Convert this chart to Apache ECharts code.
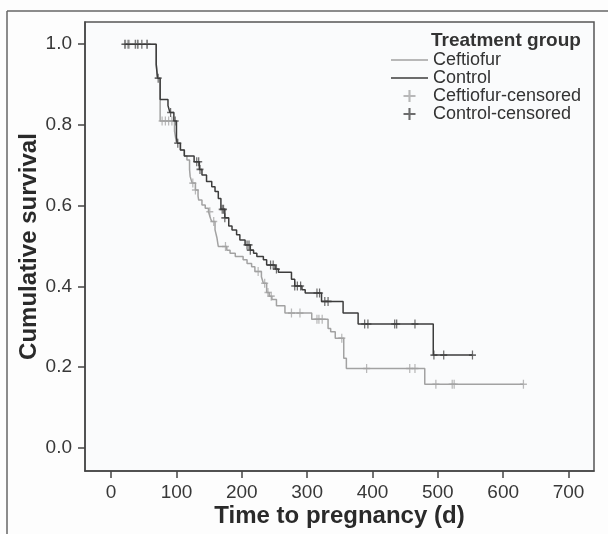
<!DOCTYPE html>
<html>
<head>
<meta charset="utf-8">
<script src="https://cdn.jsdelivr.net/npm/echarts@6/dist/echarts.min.js"></script>
<style>
html, body { margin: 0; padding: 0; background: #fdfdfd; }
#chart { width: 608px; height: 534px; }
</style>
</head>
<body>
<div id="chart"></div>
<script>
// Kaplan-Meier steps: event time (d) and survival after that time
var ceftTime = [20, 69, 71, 75, 97, 100, 106, 112, 116, 120, 121, 124, 129, 133, 134, 139, 144, 149, 152, 154, 159, 162, 164, 177, 182, 190, 202, 208, 215, 220, 230, 233, 238, 242, 246, 253, 266, 307, 332, 336, 343, 356, 360, 480, 631];
var ceftSurv = [1.0, 0.95, 0.916, 0.81, 0.785, 0.755, 0.738, 0.723, 0.713, 0.69, 0.672, 0.656, 0.639, 0.624, 0.614, 0.602, 0.594, 0.585, 0.569, 0.561, 0.54, 0.52, 0.499, 0.49, 0.482, 0.474, 0.466, 0.457, 0.449, 0.437, 0.424, 0.408, 0.385, 0.376, 0.368, 0.352, 0.334, 0.319, 0.296, 0.288, 0.272, 0.222, 0.197, 0.158, 0.158];
var ctrlTime = [20, 69, 71, 75, 87, 90, 96, 100, 101, 106, 112, 127, 135, 139, 146, 154, 159, 164, 168, 174, 180, 185, 192, 197, 205, 213, 218, 223, 233, 238, 251, 256, 276, 281, 292, 297, 322, 355, 378, 493, 553];
var ctrlSurv = [1.0, 0.95, 0.916, 0.863, 0.848, 0.831, 0.81, 0.77, 0.755, 0.738, 0.723, 0.709, 0.69, 0.676, 0.66, 0.647, 0.635, 0.618, 0.591, 0.57, 0.55, 0.54, 0.528, 0.515, 0.503, 0.49, 0.482, 0.474, 0.466, 0.453, 0.443, 0.435, 0.418, 0.401, 0.392, 0.384, 0.363, 0.334, 0.307, 0.23, 0.23];
// censored observations (d)
var ceftCens = [22, 28, 40, 55, 78, 83, 88, 93, 125, 129, 151, 157, 175, 225, 235, 240, 245, 276, 289, 315, 318, 323, 353, 391, 457, 465, 497, 522, 525, 631];
var ctrlCens = [21, 26, 37, 41, 47, 55, 72, 91, 98, 102, 131, 134, 136, 170, 172, 174, 208, 211, 213, 244, 248, 253, 281, 285, 290, 315, 319, 327, 332, 388, 393, 434, 437, 465, 494, 509, 553];
var xTicks = [0, 100, 200, 300, 400, 500, 600, 700];
var yTicks = [0, 0.2, 0.4, 0.6, 0.8, 1.0];

var FONT = "'Liberation Sans', Arial, sans-serif";
var plusPath = 'path://M3.5,0h1.5v3.5h3.5v1.5h-3.5v3.5h-1.5v-3.5h-3.5v-1.5h3.5z';
var linePath = 'path://M0,0H37V1.6H0Z';

function pairs(t, s) {
    var out = [];
    for (var i = 0; i < t.length; i++) out.push([t[i], s[i]]);
    return out;
}
// survival value of the step curve at time t
function survAt(times, surv, t) {
    var v = surv[0];
    for (var i = 0; i < times.length; i++) {
        if (times[i] <= t) v = surv[i];
    }
    return v;
}
function censPoints(cens, times, surv) {
    return cens.map(function (t) { return [t, survAt(times, surv, t)]; });
}

var chart = echarts.init(document.getElementById('chart'));
var option = {
    animation: false,
    backgroundColor: '#fdfdfd',
    textStyle: { fontFamily: FONT },
    title: {
        text: 'Treatment group',
        left: 431, top: 31,
        padding: 0,
        textStyle: { fontSize: 19, fontWeight: 'bold', color: '#333', fontFamily: FONT }
    },
    legend: {
        orient: 'vertical',
        left: 391, top: 51,
        padding: 0,
        itemWidth: 37, itemHeight: 12, itemGap: 0,
        textStyle: { fontSize: 18, color: '#333', fontFamily: FONT },
        data: [
            { name: 'Ceftiofur', icon: linePath },
            { name: 'Control', icon: linePath },
            { name: 'Ceftiofur-censored', icon: plusPath },
            { name: 'Control-censored', icon: plusPath }
        ]
    },
    grid: {
        left: 85, top: 22, right: 14, bottom: 63,
        show: true, backgroundColor: '#fafbfc',
        borderColor: '#555', borderWidth: 1.5
    },
    xAxis: {
        type: 'value', min: -40, max: 739,
        name: 'Time to pregnancy (d)', nameLocation: 'middle', nameGap: 33,
        nameMoveOverlap: false,
        nameTextStyle: { fontSize: 24, fontWeight: 'bold', color: '#2a2a2a', fontFamily: FONT },
        axisLine: { onZero: false, lineStyle: { color: '#444', width: 1.5 } },
        axisTick: { inside: false, length: 7, customValues: xTicks, lineStyle: { color: '#444', width: 1.5 } },
        axisLabel: { customValues: xTicks, fontSize: 19, color: '#383838', margin: 12, fontFamily: FONT },
        splitLine: { show: false }
    },
    yAxis: {
        type: 'value', min: -0.057, max: 1.055,
        name: 'Cumulative survival', nameLocation: 'middle', nameGap: 44,
        nameMoveOverlap: false,
        nameTextStyle: { fontSize: 24, fontWeight: 'bold', color: '#2a2a2a', fontFamily: FONT },
        axisLine: { onZero: false, lineStyle: { color: '#444', width: 1.5 } },
        axisTick: { inside: false, length: 7, customValues: yTicks, lineStyle: { color: '#444', width: 1.5 } },
        axisLabel: {
            customValues: yTicks, fontSize: 19, color: '#383838', margin: 13, fontFamily: FONT,
            formatter: function (v) { return v.toFixed(1); }
        },
        splitLine: { show: false }
    },
    graphic: [
        { type: 'line', shape: { x1: 7, y1: 11, x2: 608, y2: 11 }, style: { stroke: '#666', lineWidth: 1.5 } },
        { type: 'line', shape: { x1: 7, y1: 11, x2: 7, y2: 534 }, style: { stroke: '#666', lineWidth: 1.5 } }
    ],
    series: [
        {
            name: 'Ceftiofur', type: 'line', step: 'end', symbol: 'none',
            data: pairs(ceftTime, ceftSurv),
            lineStyle: { color: '#a2a2a2', width: 1.5 }, itemStyle: { color: '#a2a2a2' }
        },
        {
            name: 'Control', type: 'line', step: 'end', symbol: 'none',
            data: pairs(ctrlTime, ctrlSurv),
            lineStyle: { color: '#3c3c3c', width: 1.5 }, itemStyle: { color: '#3c3c3c' }
        },
        {
            name: 'Ceftiofur-censored', type: 'scatter', symbol: plusPath, symbolSize: [7, 9],
            data: censPoints(ceftCens, ceftTime, ceftSurv),
            itemStyle: { color: '#a8a8a8' }
        },
        {
            name: 'Control-censored', type: 'scatter', symbol: plusPath, symbolSize: [7, 9],
            data: censPoints(ctrlCens, ctrlTime, ctrlSurv),
            itemStyle: { color: '#484848' }
        }
    ]
};
chart.setOption(option);
</script>
</body>
</html>
